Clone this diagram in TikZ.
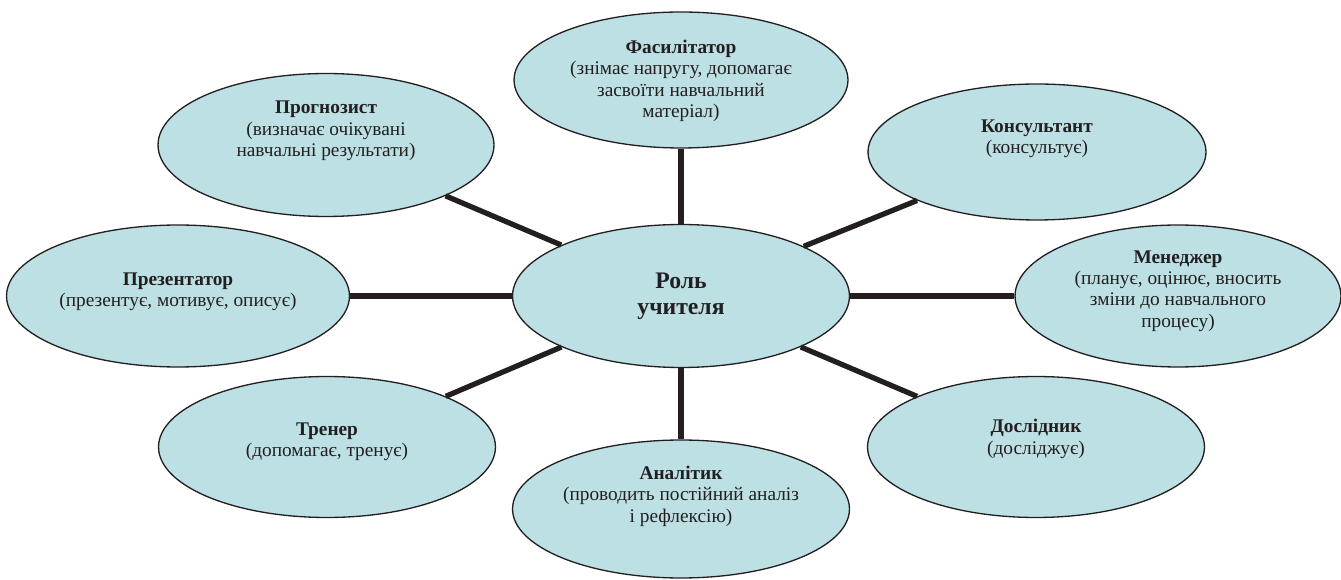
\documentclass[tikz,border=0pt]{standalone}
\usepackage{fontspec}
\setmainfont{Liberation Serif}
\usetikzlibrary{shapes.geometric}
\definecolor{rolefill}{RGB}{189,224,228}
\definecolor{ink}{RGB}{35,31,32}

\begin{document}
\begin{tikzpicture}[x=0.02cm, y=-0.02cm]
     % Define styles
     \tikzstyle{role} = [ellipse, draw=ink, line width=0.75pt, fill=rolefill, inner sep=0pt, minimum width=6.72cm, minimum height=2.84cm]
     \tikzstyle{roletext} = [align=center, text=ink, inner sep=0pt, font=\fontsize{11}{12.2}\selectfont]
     \tikzstyle{link} = [draw=ink, line width=3pt]

     \useasboundingbox (0,0) rectangle (1341,580);

     % Central ellipse
     \node[role, minimum width=6.74cm, minimum height=2.86cm] (centre) at (681,296) {};

     % Roles around it
     \node[role, minimum width=6.68cm, minimum height=2.72cm] (fac)  at (681,80)   {};
     \node[role, minimum height=2.86cm]                       (prog) at (326,145)  {};
     \node[role, minimum width=6.76cm, minimum height=2.72cm] (kons) at (1037,152) {};
     \node[role, minimum width=6.86cm]                        (prez) at (178,296)  {};
     \node[role, minimum width=6.52cm]                        (man)  at (1178,296) {};
     \node[role, minimum width=6.74cm, minimum height=2.82cm] (tren) at (327,447)  {};
     \node[role, minimum width=6.74cm, minimum height=2.82cm] (dosl) at (1036,447) {};
     \node[role, minimum width=6.74cm, minimum height=2.76cm] (anal) at (681,509)  {};

     % Connectors
     \foreach \r in {fac,prog,kons,prez,man,tren,dosl,anal} {
          \draw[link] (centre) -- (\r);
     }

     % Labels
     \node[roletext, font=\bfseries\fontsize{13.5}{14.8}\selectfont] (centre-t) at (centre) {Роль\\учителя};
     \node[roletext] (fac-t)  at ([yshift=-0.02cm]fac)  {\textbf{Фасилітатор}\\(знімає напругу, допомагає\\засвоїти навчальний\\матеріал)};
     \node[roletext] (prog-t) at ([yshift=0.28cm]prog)  {\textbf{Прогнозист}\\(визначає очікувані\\навчальні результати)};
     \node[roletext] (kons-t) at ([yshift=0.26cm]kons)  {\textbf{Консультант}\\(консультує)};
     \node[roletext] (prez-t) at ([yshift=0.08cm]prez)  {\textbf{Презентатор}\\(презентує, мотивує, описує)};
     \node[roletext] (man-t)  at ([yshift=0.1cm]man)    {\textbf{Менеджер}\\(планує, оцінює, вносить\\зміни до навчального\\процесу)};
     \node[roletext] (tren-t) at ([yshift=0.1cm]tren)   {\textbf{Тренер}\\(допомагає, тренує)};
     \node[roletext] (dosl-t) at ([yshift=0.16cm]dosl)  {\textbf{Дослідник}\\(досліджує)};
     \node[roletext] (anal-t) at ([yshift=0.26cm]anal)  {\textbf{Аналітик}\\(проводить постійний аналіз\\і рефлексію)};

\end{tikzpicture}
\end{document}
